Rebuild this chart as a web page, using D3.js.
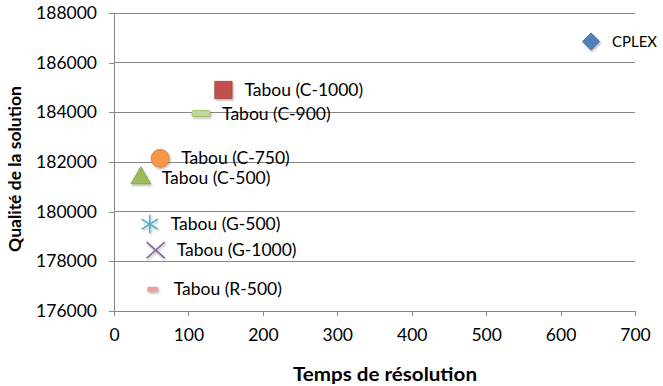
<!DOCTYPE html>
<html><head><meta charset="utf-8">
<script src="https://cdn.jsdelivr.net/npm/d3@7"></script>
<style>body{margin:0;background:#fff}svg{display:block}text{font-family:Lato,"Open Sans",sans-serif}</style>
</head><body><svg id="c" width="663" height="386"></svg>
<script>
const names = ["CPLEX","Tabou (C-1000)","Tabou (C-900)","Tabou (C-750)","Tabou (C-500)","Tabou (G-500)","Tabou (G-1000)","Tabou (R-500)"];
const times = [641, 147, 117, 62, 36, 48, 56, 52];
const quality = [186850, 184900, 183950, 182150, 181350, 179500, 178450, 176880];
const markers = ["diamond","square","dash","circle","triangle","asterisk","cross","smalldash"];
const colors = ["#4F81BD","#C0504D","#C3D69B","#F79646","#9BBB59","#4BACC6","#8064A2","#E6A3A1"];
const xTicks = [0,100,200,300,400,500,600,700];
const yTicks = [176000,178000,180000,182000,184000,186000,188000];

const FS = 17.5;
const W = 663;
const svg = d3.select("#c");
const defs = svg.append("defs");
const f = defs.append("filter").attr("id","sh").attr("x","-50%").attr("y","-50%").attr("width","200%").attr("height","200%");
f.append("feDropShadow").attr("dx",1).attr("dy",1.5).attr("stdDeviation",1.2).attr("flood-color","#000").attr("flood-opacity",0.3);

const L=114,R=635,T=13,B=311;
const x = d3.scaleLinear().domain([0,700]).range([L,R]);
const y = d3.scaleLinear().domain([176000,188000]).range([B,T]);

svg.append("g").selectAll("line").data(yTicks).join("line")
  .attr("x1",L).attr("x2",R).attr("y1",d=>y(d)).attr("y2",d=>y(d))
  .attr("stroke","#878787").attr("stroke-width",1).attr("shape-rendering","crispEdges");

const ya = svg.append("g").attr("transform",`translate(${L},0)`)
  .call(d3.axisLeft(y).tickValues(yTicks).tickFormat(d3.format("d")).tickSize(5).tickPadding(12));
const xa = svg.append("g").attr("transform",`translate(0,${B})`)
  .call(d3.axisBottom(x).tickValues(xTicks).tickFormat(d3.format("d")).tickSize(5).tickPadding(13));
[ya,xa].forEach(a=>{
  a.select(".domain").attr("stroke","#878787").attr("shape-rendering","crispEdges");
  a.selectAll(".tick line").attr("stroke","#878787").attr("shape-rendering","crispEdges");
  a.selectAll("text").attr("font-size",FS).attr("fill","#000").attr("font-family","Lato,'Open Sans',sans-serif");
});

const data = names.map((n,i)=>({n,t:times[i],q:quality[i],m:markers[i],c:colors[i]}));
const sym = {
  diamond: d3.symbol().type(d3.symbolDiamond2).size(190),
  square: d3.symbol().type(d3.symbolSquare2).size(380),
  circle: d3.symbol().type(d3.symbolCircle).size(255),
  triangle: d3.symbol().type(d3.symbolTriangle).size(170),
};
const g = svg.append("g");
data.forEach(d=>{
  const cx=x(d.t), cy=y(d.q);
  const gg = g.append("g").attr("transform",`translate(${cx},${cy})`).attr("filter","url(#sh)");
  if (sym[d.m]) {
    gg.append("path").attr("d",sym[d.m]()).attr("fill",d.c)
      .attr("stroke",d3.color(d.c).darker(0.5)).attr("stroke-width",0.8);
  } else if (d.m==="dash") {
    gg.append("rect").attr("x",-9).attr("y",-3).attr("width",18).attr("height",6).attr("rx",1.5)
      .attr("fill",d.c).attr("stroke","#9BBB59").attr("stroke-width",0.8);
  } else if (d.m==="smalldash") {
    gg.append("rect").attr("x",-5.5).attr("y",-2.5).attr("width",11).attr("height",5).attr("rx",1.5).attr("fill",d.c);
  } else if (d.m==="asterisk") {
    [[0,-9,0,9],[-8,-5,8,5],[-8,5,8,-5]].forEach(s=>gg.append("line")
      .attr("x1",s[0]).attr("y1",s[1]).attr("x2",s[2]).attr("y2",s[3]).attr("stroke",d.c).attr("stroke-width",1.5));
  } else if (d.m==="cross") {
    [[-9,-8,9,8],[-9,8,9,-8]].forEach(s=>gg.append("line")
      .attr("x1",s[0]).attr("y1",s[1]).attr("x2",s[2]).attr("y2",s[3]).attr("stroke",d.c).attr("stroke-width",1.5));
  }
  const tx = cx+21;
  const t = g.append("text").attr("x",tx).attr("y",cy).attr("dy","0.35em")
    .attr("font-size",FS).attr("fill","#000").text(d.n);
  const w = t.node().getComputedTextLength();
  if (tx + w > W - 6) t.attr("font-size", FS * (W - 6 - tx) / w);
});

svg.append("text").attr("transform","translate(15,169) rotate(-90)").attr("text-anchor","middle").attr("dy","0.35em")
  .attr("font-size",FS).attr("font-weight","bold").text("Qualité de la solution");
svg.append("text").attr("x",385).attr("y",381).attr("text-anchor","middle")
  .attr("font-size",19).attr("font-weight","bold").attr("textLength",184).attr("lengthAdjust","spacingAndGlyphs")
  .text("Temps de résolution");
</script></body></html>
